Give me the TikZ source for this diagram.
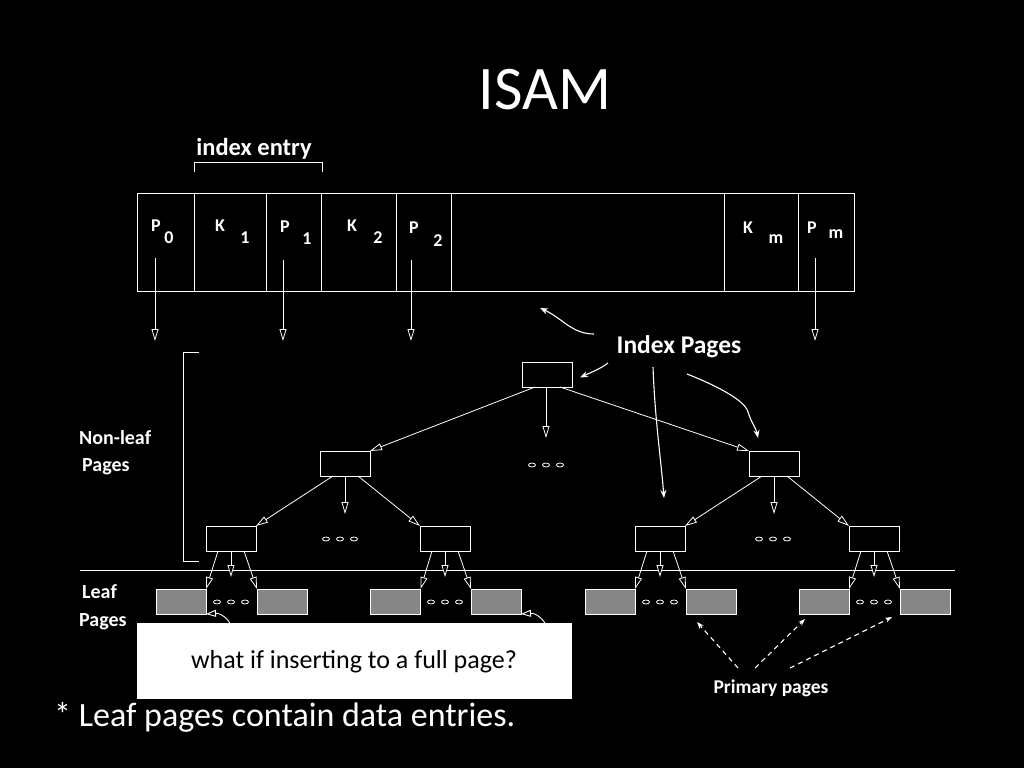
\documentclass[tikz,border=0pt]{standalone}
\usepackage{fontspec}
\setmainfont{Carlito}
\usetikzlibrary{arrows.meta}
\begin{document}
\begin{tikzpicture}[x=1pt,y=-1pt,
  every path/.style={white},
  ln/.style={draw=white,line width=0.9pt},
  cell/.style={draw=white,line width=0.9pt,inner sep=0pt,outer sep=0pt,minimum height=98pt},
  box/.style={draw=white,line width=1pt,fill=black,inner sep=0pt,outer sep=0pt,minimum width=50pt,minimum height=25pt},
  leaf/.style={draw=white,line width=1pt,fill=gray!95!white,inner sep=0pt,outer sep=0pt,minimum width=50pt,minimum height=25pt},
  oarr/.style={draw=white,line width=0.8pt,-{Triangle[open,length=12pt,width=7pt,fill=black]}},
  carr/.style={draw=white,line width=1.1pt,-{Stealth[length=8pt,width=6pt]}},
  darr/.style={draw=white,line width=1.1pt,dashed,dash pattern=on 5pt off 4pt,-{Stealth[length=7pt,width=5pt]}},
  lbl/.style={text=white,font=\bfseries\fontsize{18}{18}\selectfont,inner sep=0pt},
  sub/.style={text=white,font=\bfseries\fontsize{18}{18}\selectfont,inner sep=0pt},
  side/.style={text=white,font=\bfseries\fontsize{20}{20}\selectfont,inner sep=0pt,anchor=west},
  dots/.style={draw=white,line width=0.8pt}
]
\fill[black] (0,0) rectangle (1024,768);
\useasboundingbox (0,0) rectangle (1024,768);

% title
\node[text=white,font=\fontsize{62}{62}\selectfont,inner sep=0pt] (title) at (545,90) {ISAM};

% index entry bracket
\node[text=white,font=\bfseries\fontsize{24.5}{24.5}\selectfont,inner sep=0pt] (ie) at (254,149) {index entry};
\draw[ln] (194,172) -- (194,162) -- (322,162) -- (322,172);

% top record cells
\node[cell,minimum width=57pt] (c0) at (165.5,242) {};
\node[cell,minimum width=72pt] (c1) at (230,242) {};
\node[cell,minimum width=55pt] (c2) at (293.5,242) {};
\node[cell,minimum width=75pt] (c3) at (358.5,242) {};
\node[cell,minimum width=55pt] (c4) at (423.5,242) {};
\node[cell,minimum width=273pt] (c5) at (587.5,242) {};
\node[cell,minimum width=74pt] (c6) at (761,242) {};
\node[cell,minimum width=56pt] (c7) at (826,242) {};

\node[lbl] (p0) at (156,226) {P};   \node[sub] (p0s) at (169,238) {0};
\node[lbl] (k1) at (220,226) {K};   \node[sub] (k1s) at (245,238) {1};
\node[lbl] (p1) at (285,227) {P};   \node[sub] (p1s) at (307,239) {1};
\node[lbl] (k2) at (352,226) {K};   \node[sub] (k2s) at (378,238) {2};
\node[lbl] (p2) at (414,228) {P};   \node[sub] (p2s) at (438,241) {2};
\node[lbl] (km) at (748,228) {K};   \node[sub] (kms) at (776,239) {m};
\node[lbl] (pm) at (812,228) {P};   \node[sub] (pms) at (836,234) {m};

\coordinate (a0s) at (155,258); \coordinate (a0e) at (155,341);
\coordinate (a1s) at (283,260); \coordinate (a1e) at (283,341);
\coordinate (a2s) at (411,260); \coordinate (a2e) at (411,341);
\coordinate (a3s) at (815,258); \coordinate (a3e) at (815,341);
\draw[oarr] (a0s) -- (a0e);
\draw[oarr] (a1s) -- (a1e);
\draw[oarr] (a2s) -- (a2e);
\draw[oarr] (a3s) -- (a3e);

% Index Pages label and curved arrows
\node[text=white,font=\bfseries\fontsize{25.5}{25.5}\selectfont,inner sep=0pt] (ip) at (679,347) {Index Pages};
\coordinate (cu1s) at (594,334); \coordinate (cu1e) at (540,308);
\draw[carr] (cu1s) .. controls (572,334) and (562,318) .. (cu1e);

% tree nodes
\node[box] (root) at (547,374.5) {};
\node[box] (lc) at (345,463.5) {};
\node[box] (rc) at (774,463.5) {};
\node[box] (n1) at (231,538.5) {};
\node[box] (n2) at (445,538.5) {};
\node[box] (n3) at (660,538.5) {};
\node[box] (n4) at (874,538.5) {};

\coordinate (cu2s) at (608,363);
\draw[carr] (cu2s) .. controls (600,369) and (592,372) .. ([xshift=8pt,yshift=-3pt]root.east);
\coordinate (cu3s) at (653,367); \coordinate (cu3e) at (664,498);
\draw[carr] (cu3s) .. controls (655,420) and (661,460) .. (cu3e);
\coordinate (cu4s) at (687,374); \coordinate (cu4e) at (758,438);
\draw[carr] (cu4s) .. controls (715,385) and (745,400) .. (748,412) .. controls (751,422) and (756,428) .. (cu4e);

% root arrows
\coordinate (rdown) at (546,438);
\draw[oarr] ([xshift=-12pt]root.south) -- (lc.north east);
\draw[oarr] ([xshift=-1pt]root.south) -- (rdown);
\draw[oarr] ([xshift=13pt]root.south) -- (rc.north west);

% level 2 arrows
\coordinate (ldown) at (345,514);
\draw[oarr] ([xshift=-12pt]lc.south) -- (n1.north east);
\draw[oarr] (lc.south) -- (ldown);
\draw[oarr] ([xshift=13pt]lc.south) -- (n2.north west);
\coordinate (rrdown) at (774,514);
\draw[oarr] ([xshift=-12pt]rc.south) -- (n3.north east);
\draw[oarr] (rc.south) -- (rrdown);
\draw[oarr] ([xshift=13pt]rc.south) -- (n4.north west);

% dots between inner nodes
\foreach \x in {532,546,560} \draw[dots] (\x,465) ellipse (3.5 and 2);
\foreach \x in {326,340,354} \draw[dots] (\x,539) ellipse (3.5 and 2);
\foreach \x in {759,773,787} \draw[dots] (\x,539) ellipse (3.5 and 2);

% separator line
\coordinate (sepL) at (80,570); \coordinate (sepR) at (955,570);
\draw[ln] (sepL) -- (sepR);

% leaf pages
\node[leaf] (l1) at (181,601.5) {};
\node[leaf] (l2) at (282,601.5) {};
\node[leaf] (l3) at (395.5,601.5) {};
\node[leaf] (l4) at (496,601.5) {};
\node[leaf] (l5) at (610,601.5) {};
\node[leaf] (l6) at (711,601.5) {};
\node[leaf] (l7) at (824,601.5) {};
\node[leaf] (l8) at (925,601.5) {};
\foreach \x in {217,231,245} \draw[dots] (\x,602) ellipse (3.5 and 2);
\foreach \x in {431,445,459} \draw[dots] (\x,602) ellipse (3.5 and 2);
\foreach \x in {646,660,674} \draw[dots] (\x,602) ellipse (3.5 and 2);
\foreach \x in {860,874,888} \draw[dots] (\x,602) ellipse (3.5 and 2);

% leaf arrows
\foreach \n/\a/\b in {n1/l1/l2,n2/l3/l4,n3/l5/l6,n4/l7/l8}{
  \draw[oarr] ([xshift=-13pt]\n.south) -- (\a.north east);
  \draw[oarr] (\n.south) -- ([yshift=-26pt]\n.south);
  \draw[oarr] ([xshift=13pt]\n.south) -- (\b.north west);
}

% overflow arcs (partly hidden)
\coordinate (ov1) at (232,628);
\draw[ln,-{Triangle[open,length=10pt,width=7pt,fill=black]}] (ov1) .. controls (229,618) and (220,613) .. (l1.south east);
\coordinate (ov2) at (547,628);
\draw[ln,-{Triangle[open,length=10pt,width=7pt,fill=black]}] (ov2) .. controls (544,618) and (535,613) .. (l4.south east);

% left bracket
\draw[ln] (199,352) -- (183,352) -- (183,561) -- (199,561);
\node[side] (nl1) at (79,438) {Non-leaf};
\node[side] (nl2) at (82,467) {Pages};
\node[side] (lf1) at (82,592) {Leaf};
\node[side] (lf2) at (79,622) {Pages};

% question box
\node[fill=white,draw=white,minimum width=434pt,minimum height=75pt,inner sep=0pt] (qbox) at (354,660.5) {};
\node[text=black,font=\fontsize{26}{26}\selectfont,inner sep=0pt] (qtext) at (354,662) {what if inserting to a full page?};

% footer
\node[text=white,font=\fontsize{34}{34}\selectfont,inner sep=0pt,anchor=west] (foot) at (54,717) {* Leaf pages contain data entries.};

% primary pages
\node[text=white,font=\bfseries\fontsize{19.5}{19.5}\selectfont,inner sep=0pt] (prim) at (771,688) {Primary pages};
\coordinate (pr1) at (738,668); \coordinate (pr2) at (755,668); \coordinate (pr3) at (790,668);
\draw[darr] (pr1) -- ([xshift=11pt,yshift=-8pt]l6.south west);
\draw[darr] (pr2) -- ([xshift=6pt,yshift=-5pt]l7.south west);
\draw[darr] (pr3) -- ([xshift=-33pt,yshift=-3pt]l8.south);
\end{tikzpicture}
\end{document}
